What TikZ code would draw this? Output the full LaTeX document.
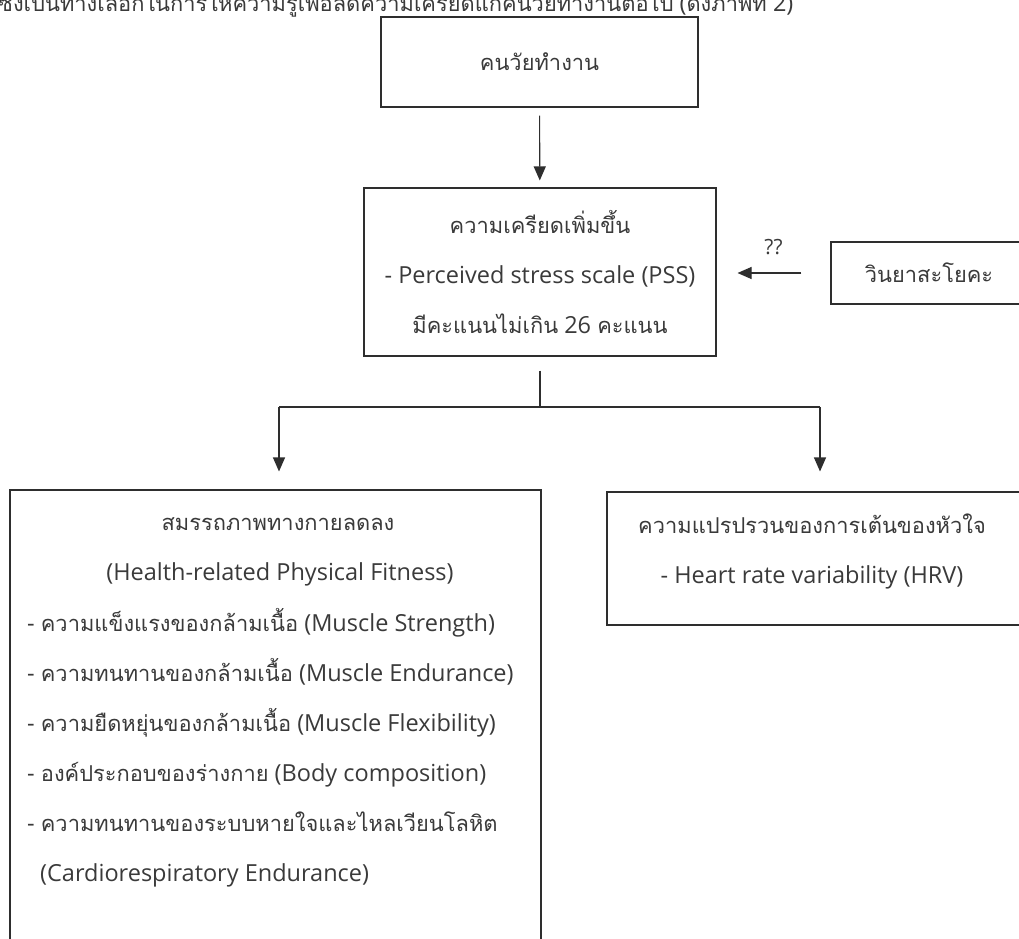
\documentclass[tikz,border=0pt]{standalone}
\usepackage{fontspec}
\setmainfont{Open Sans}
\newfontfamily\thai[Script=Thai,Scale=0.93]{Loma}
\usetikzlibrary{arrows.meta}
\definecolor{ink}{HTML}{2E2E2E}
\definecolor{txt}{HTML}{3A3A3A}
\tikzset{
  box/.style={draw=ink, line width=1.1pt, rectangle, inner sep=0pt, text=txt,
    align=center, font=\fontsize{23.5}{50}\selectfont},
  lbl/.style={inner sep=0pt, text=txt, font=\fontsize{23.5}{28}\selectfont,
    text height=17pt, text depth=6pt},
  conn/.style={draw=ink, line width=1.1pt},
  arr/.style={conn, -{Triangle[length=14pt,width=12pt]}}
}
\begin{document}
\begin{tikzpicture}[x=1pt,y=-1pt]
\useasboundingbox (0,0) rectangle (1019,938);
\clip (0,0) rectangle (1019,938);
% clipped top line of text
\node[inner sep=0pt, text=txt, font=\fontsize{23.5}{28}\selectfont, anchor=base west] (top) at (-2,11)
  {{\thai ซึ่งเป็นทางเลือกในการให้ความรู้เพื่อลดความเครียดแก่คนวัยทำงานต่อไป} ({\thai ดังภาพที่} 2)};
% boxes
\node[box, minimum width=317pt, minimum height=90pt] (b1) at (539.5,62) {\thai คนวัยทำงาน};
\node[box, minimum width=352pt, minimum height=168pt] (b2) at (540,272)
  {{\thai ความเครียดเพิ่มขึ้น}\\- Perceived stress scale (PSS)\\{\thai มีคะแนนไม่เกิน} 26 {\thai คะแนน}};
\node[box, minimum width=196pt, minimum height=62pt] (b3) at (929,273) {\thai วินยาสะโยคะ};
\node[box, minimum width=531pt, minimum height=480pt] (b4) at (275.5,730) {};
\node[box, minimum width=415pt, minimum height=133pt] (b5) at (814.5,558.5) {};
% box 5 text
\node[lbl] (t51) at (812,528) {\thai ความแปรปรวนของการเต้นของหัวใจ};
\node[lbl] (t52) at (812,578) {- Heart rate variability (HRV)};
% box 4 text
\node[lbl] (t41) at (278,525) {\thai สมรรถภาพทางกายลดลง};
\node[lbl] (t42) at (280,575) {(Health-related Physical Fitness)};
\node[lbl, anchor=west] (t43) at (27,626) {- {\thai ความแข็งแรงของกล้ามเนื้อ} (Muscle Strength)};
\node[lbl, anchor=west] (t44) at (27,676) {- {\thai ความทนทานของกล้ามเนื้อ} (Muscle Endurance)};
\node[lbl, anchor=west] (t45) at (27,726) {- {\thai ความยืดหยุ่นของกล้ามเนื้อ} (Muscle Flexibility)};
\node[lbl, anchor=west] (t46) at (27,776) {- {\thai องค์ประกอบของร่างกาย} (Body composition)};
\node[lbl, anchor=west] (t47) at (27,826) {- {\thai ความทนทานของระบบหายใจและไหลเวียนโลหิต}};
\node[lbl, anchor=west] (t48) at (40,876) {(Cardiorespiratory Endurance)};
% connectors
\draw[arr, shorten <=8pt, shorten >=7pt] (b1) -- (b2);
\draw[arr, shorten <=29pt, shorten >=21pt] (b3.west) -- (b2.east |- b3.west)
  node[pos=0.5, above=12pt, lbl, font=\fontsize{21}{24}\selectfont] (q) {??};
\coordinate (j) at (540,407);
\coordinate (jL) at (279,407);
\coordinate (jR) at (820,407);
\draw[conn] ([yshift=-14pt]b2.south) -- (j);
\draw[conn] (jL) -- (jR);
\draw[arr] (jL) -- ([yshift=18pt]jL |- b4.north);
\draw[arr] (jR) -- ([yshift=20pt]jR |- b5.north);
\end{tikzpicture}
\end{document}
